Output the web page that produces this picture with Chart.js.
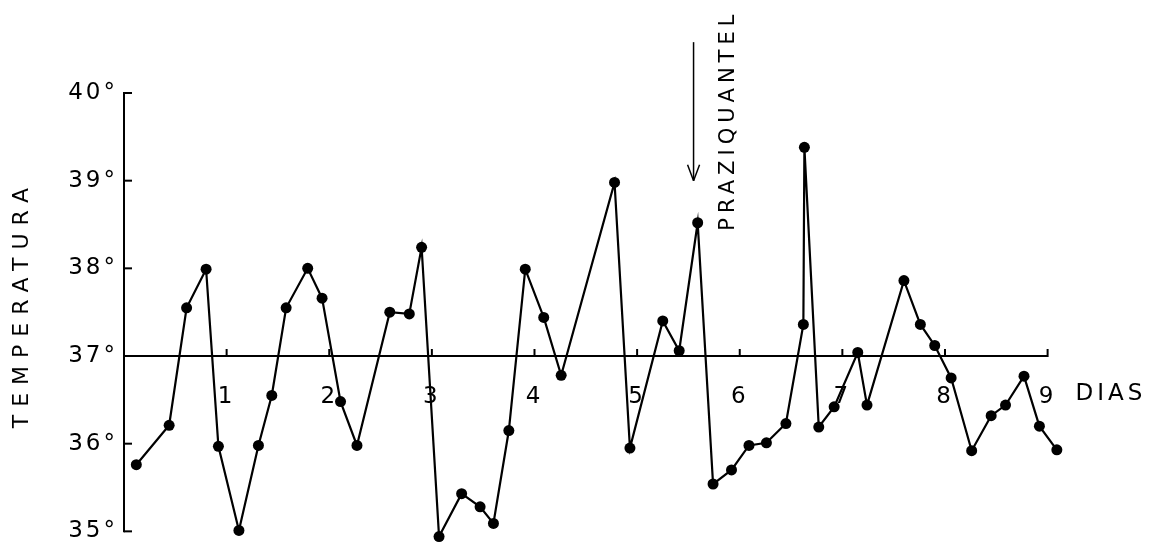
<!DOCTYPE html>
<html>
<head>
<meta charset="utf-8">
<script src="https://cdn.jsdelivr.net/npm/chart.js@4.4.1/dist/chart.umd.min.js"></script>
<style>
  html, body { margin: 0; padding: 0; background: #fff; }
  #wrap { width: 1154px; height: 550px; }
</style>
</head>
<body>
<div id="wrap"><canvas id="tempChart"></canvas></div>
<script>
// leituras de temperatura (dia, grau)
const dias = [0.12, 0.44, 0.61, 0.80, 0.92, 1.12, 1.31, 1.44, 1.58, 1.79,
              1.93, 2.11, 2.27, 2.59, 2.78, 2.90, 3.07, 3.29, 3.47, 3.60,
              3.75, 3.91, 4.09, 4.26, 4.78, 4.93, 5.25, 5.41, 5.59, 5.74,
              5.92, 6.09, 6.26, 6.45, 6.62, 6.63, 6.77, 6.92, 7.15, 7.24,
              7.60, 7.76, 7.90, 8.06, 8.26, 8.45, 8.59, 8.77, 8.92, 9.09];
const temperaturas = [35.76, 36.21, 37.55, 37.99, 35.97, 35.01, 35.98, 36.55, 37.55, 38.00,
                      37.66, 36.48, 35.98, 37.50, 37.48, 38.24, 34.94, 35.43, 35.28, 35.09,
                      36.15, 37.99, 37.44, 36.78, 38.98, 35.95, 37.40, 37.06, 38.52, 35.54,
                      35.70, 35.98, 36.01, 36.23, 37.36, 39.38, 36.19, 36.42, 37.04, 36.44,
                      37.86, 37.36, 37.12, 36.75, 35.92, 36.32, 36.44, 36.77, 36.20, 35.93];
const tempTicks = [35, 36, 37, 38, 39, 40];
const diaTicks = [1, 2, 3, 4, 5, 6, 7, 8, 9];
const linhaBase = 37;
const diaPraziquantel = 5.55;
const setaInicio = 40.58, setaFim = 39.0;

const pontos = dias.map((d, i) => ({x: d, y: temperaturas[i]}));
const fonte = '"DejaVu Sans"';

// sem folga extra das etiquetas, para a area do grafico ficar fixa
const semFolga = s => { s.paddingTop = 0; s.paddingBottom = 0; s.paddingLeft = 0; s.paddingRight = 0; };

const desenho = {
  id: 'desenho',
  beforeDraw(chart) {
    chart.ctx.letterSpacing = '3px';
  },
  afterDraw(chart) {
    const ctx = chart.ctx;
    const sx = chart.scales.x, sy = chart.scales.y;
    const line = (a, b, c, d) => { ctx.beginPath(); ctx.moveTo(a, b); ctx.lineTo(c, d); ctx.stroke(); };
    ctx.save();
    ctx.letterSpacing = '0px';
    ctx.strokeStyle = '#000';
    ctx.fillStyle = '#000';
    ctx.lineWidth = 2;

    // eixos: vertical de 35 a 40, horizontal em 37 de 0 a 9
    const x0 = sx.getPixelForValue(0), x9 = sx.getPixelForValue(9);
    const yb = sy.getPixelForValue(linhaBase);
    line(x0, sy.getPixelForValue(35) + 1, x0, sy.getPixelForValue(40) - 1);
    line(x0, yb, x9, yb);

    tempTicks.forEach(t => {
      if (t === linhaBase) return;
      const py = sy.getPixelForValue(t);
      line(x0, py, x0 + 8, py);
    });
    diaTicks.forEach(d => {
      const px = sx.getPixelForValue(d);
      line(px, yb + 1, px, yb - 7);
    });

    // seta do praziquantel
    const ax = sx.getPixelForValue(diaPraziquantel);
    const ay1 = sy.getPixelForValue(setaInicio), ay2 = sy.getPixelForValue(setaFim);
    ctx.lineWidth = 1.5;
    line(ax, ay1, ax, ay2);
    line(ax - 6, ay2 - 16, ax, ay2);
    line(ax + 6, ay2 - 16, ax, ay2);

    ctx.textBaseline = 'middle';
    ctx.textAlign = 'center';
    ctx.font = '21px ' + fonte;
    ctx.letterSpacing = '5px';
    ctx.save();
    ctx.translate(ax + 35, ay1 + 80);
    ctx.rotate(-Math.PI / 2);
    ctx.fillText('PRAZIQUANTEL', 2, 0);
    ctx.restore();

    ctx.font = '22px ' + fonte;
    ctx.letterSpacing = '8px';
    ctx.save();
    ctx.translate(22, (sy.getPixelForValue(35) + sy.getPixelForValue(40)) / 2 - 4);
    ctx.rotate(-Math.PI / 2);
    ctx.fillText('TEMPERATURA', 4, 0);
    ctx.restore();

    ctx.textAlign = 'left';
    ctx.font = '23px ' + fonte;
    ctx.letterSpacing = '4px';
    ctx.fillText('DIAS', x9 + 28, yb + 38);
    ctx.restore();
    ctx.letterSpacing = '0px';
  }
};

new Chart(document.getElementById('tempChart'), {
  type: 'line',
  data: {
    datasets: [{
      data: pontos,
      borderColor: '#000',
      borderWidth: 2.2,
      backgroundColor: '#000',
      pointRadius: 5.5,
      pointBackgroundColor: '#000',
      pointBorderWidth: 0,
      tension: 0,
      clip: false
    }]
  },
  options: {
    responsive: true,
    maintainAspectRatio: false,
    animation: false,
    layout: { padding: { left: 0, right: 91, top: 93, bottom: 2 } },
    plugins: { legend: { display: false }, tooltip: { enabled: false } },
    scales: {
      x: {
        type: 'linear',
        position: { y: linhaBase },
        min: 0,
        max: 9.15,
        afterFit: semFolga,
        border: { display: false },
        grid: { drawOnChartArea: false, drawTicks: false },
        ticks: {
          stepSize: 1,
          includeBounds: false,
          padding: 27,
          color: '#000',
          font: { family: 'DejaVu Sans', size: 23 },
          callback: v => diaTicks.includes(v) ? String(v) : ''
        }
      },
      y: {
        min: 34.85,
        max: 40,
        afterFit: s => { s.width = 124; semFolga(s); },
        border: { display: false },
        grid: { drawOnChartArea: false, drawTicks: false },
        ticks: {
          stepSize: 1,
          includeBounds: false,
          padding: 6,
          color: '#000',
          font: { family: 'DejaVu Sans', size: 23 },
          callback: v => tempTicks.includes(v) ? v + '°' : ''
        }
      }
    }
  },
  plugins: [desenho]
});
</script>
</body>
</html>
